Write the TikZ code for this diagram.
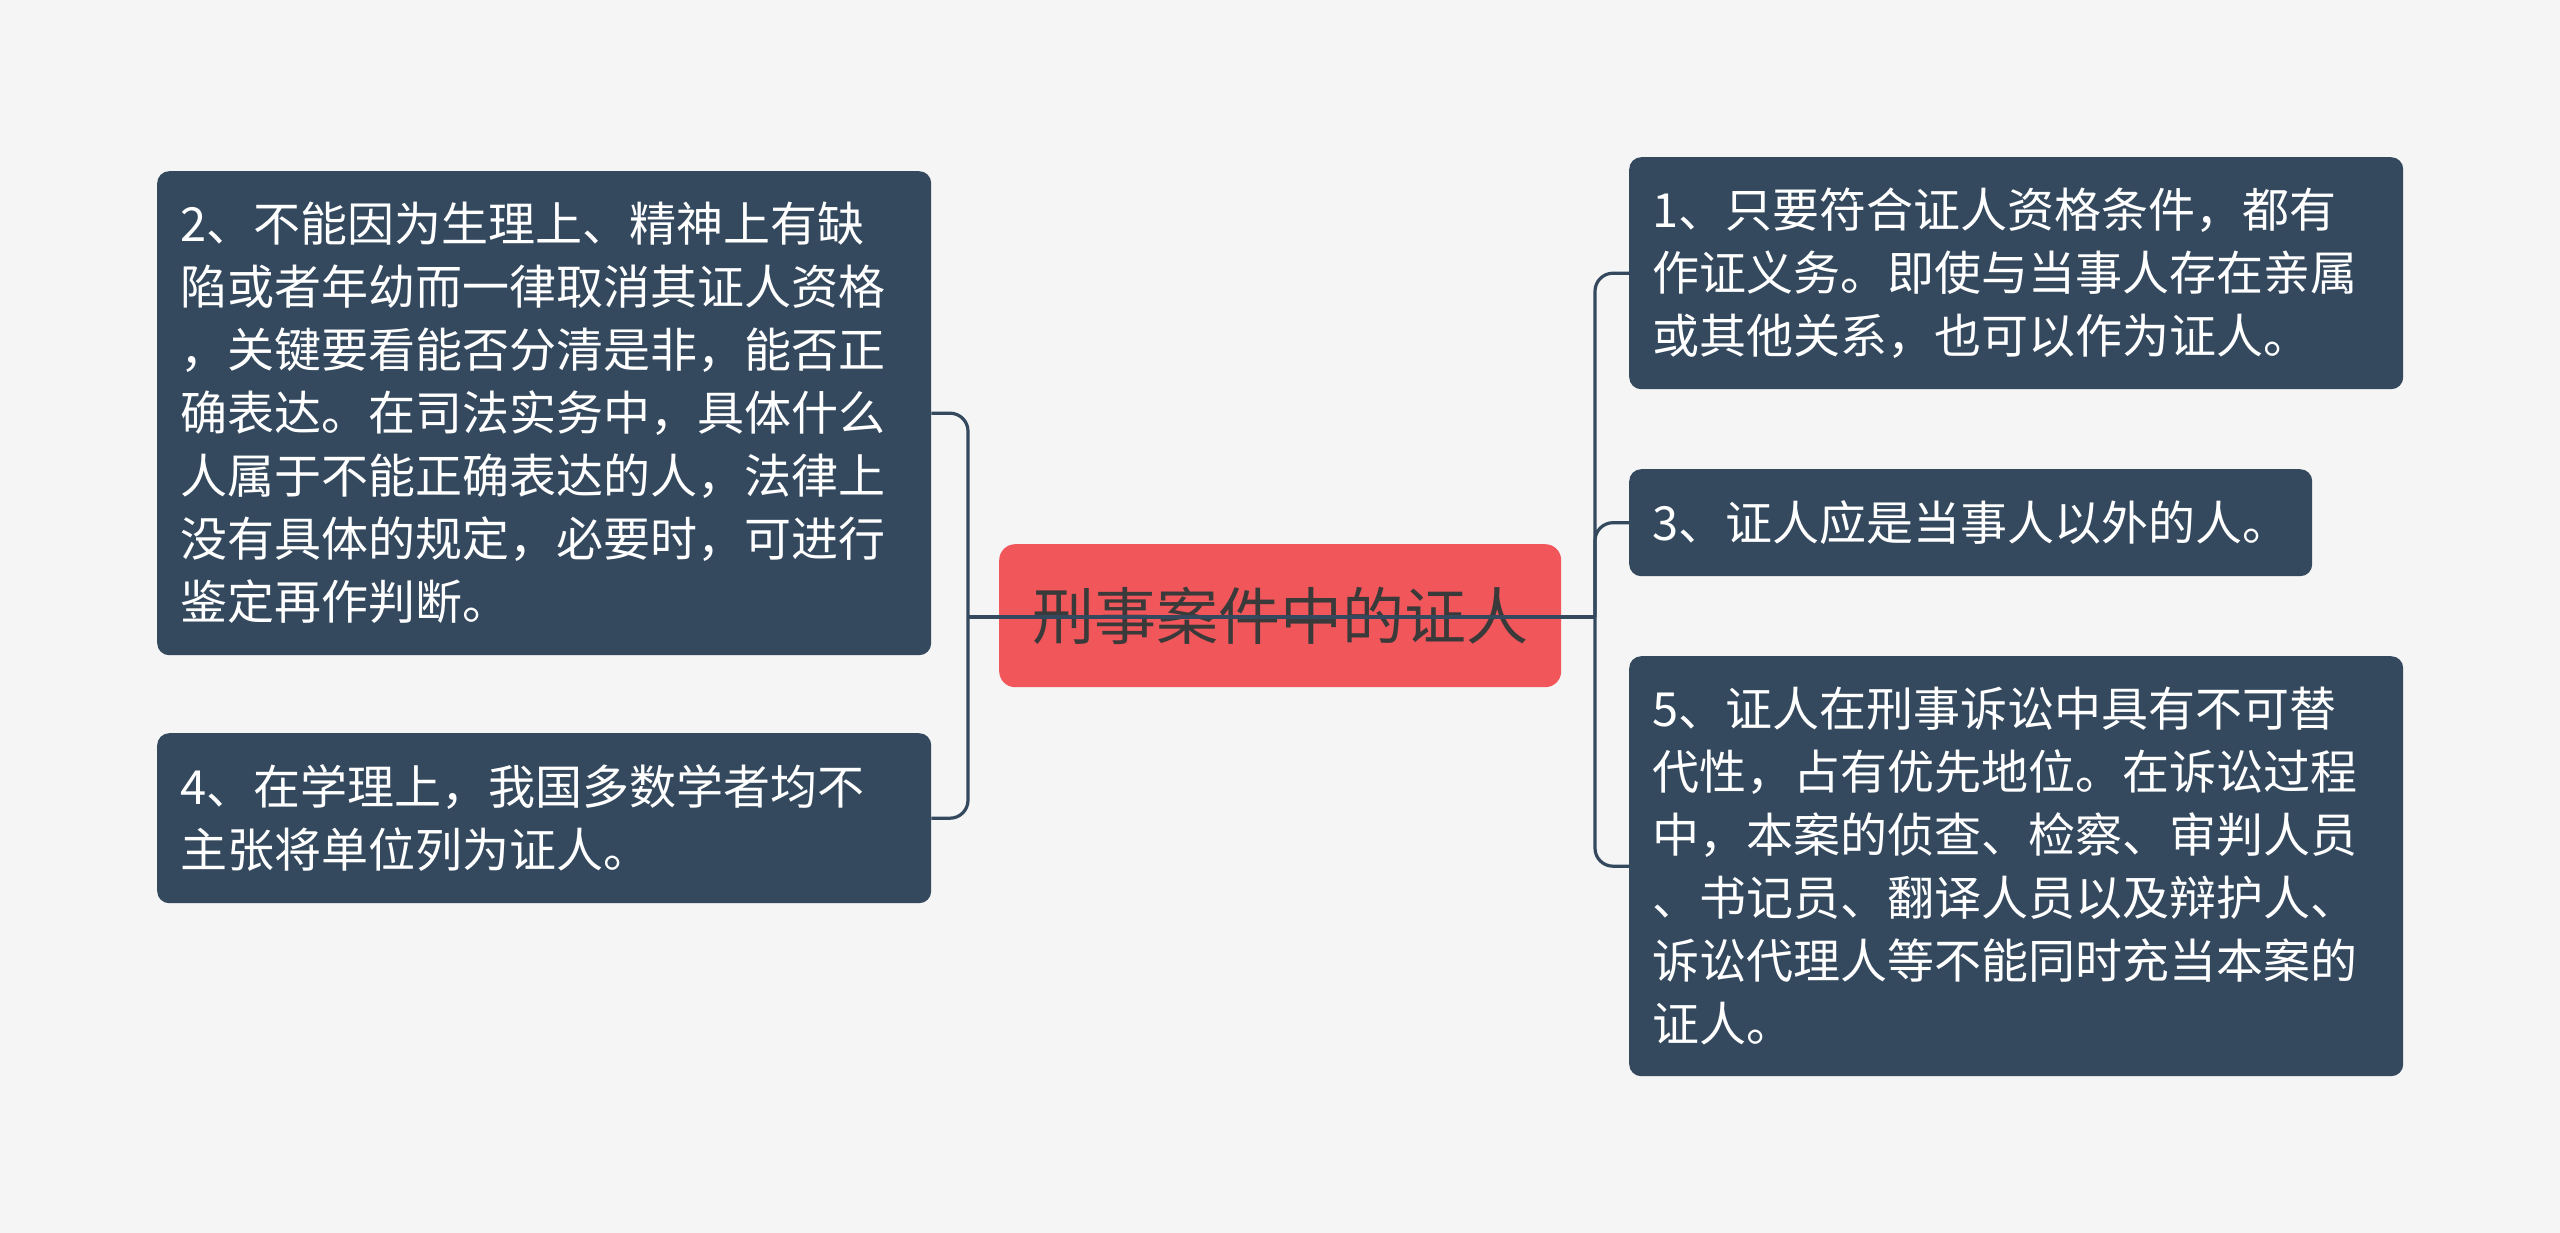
\documentclass[tikz,border=0pt]{standalone}
\usepackage{fontspec}
\newfontfamily\cjk{Noto Sans CJK SC}
\definecolor{bg}{HTML}{F5F5F5}
\definecolor{darkbox}{HTML}{34495E}
\definecolor{redbox}{HTML}{F0565A}
\definecolor{titletext}{HTML}{3A3A3A}
\tikzset{
  leaf/.style={draw=none, fill=darkbox, rounded corners=12pt, anchor=north west,
    inner xsep=23pt, inner ysep=0pt, align=left, text=white,
    font=\cjk\fontsize{47}{63}\selectfont},
  rootbox/.style={draw=none, fill=redbox, rounded corners=16pt, anchor=north west,
    minimum width=562pt, minimum height=143pt, inner sep=0pt, text=titletext,
    font=\cjk\fontsize{62}{72}\selectfont},
  link/.style={draw=darkbox, line width=3.2pt, rounded corners=18pt}
}
\begin{document}
\begin{tikzpicture}[x=1pt,y=-1pt]
\useasboundingbox[fill=bg] (0,0) rectangle (2560,1233);
% root
\node[rootbox] (root) at (999,544) {刑事案件中的证人};
% left
\node[leaf, text width=728pt, minimum height=484pt] (n2) at (157,171) {2、不能因为生理上、精神上有缺\\陷或者年幼而一律取消其证人资格\\，关键要看能否分清是非，能否正\\确表达。在司法实务中，具体什么\\人属于不能正确表达的人，法律上\\没有具体的规定，必要时，可进行\\鉴定再作判断。};
\node[leaf, text width=728pt, minimum height=170pt] (n4) at (157,733) {4、在学理上，我国多数学者均不\\主张将单位列为证人。};
% right
\node[leaf, text width=728pt, minimum height=232pt] (n1) at (1629,157) {1、只要符合证人资格条件，都有\\作证义务。即使与当事人存在亲属\\或其他关系，也可以作为证人。};
\node[leaf, text width=637pt, minimum height=107pt] (n3) at (1629,469) {3、证人应是当事人以外的人。};
\node[leaf, text width=728pt, minimum height=420pt] (n5) at (1629,656) {5、证人在刑事诉讼中具有不可替\\代性，占有优先地位。在诉讼过程\\中，本案的侦查、检察、审判人员\\、书记员、翻译人员以及辩护人、\\诉讼代理人等不能同时充当本案的\\证人。};
% connectors
\coordinate (L) at (968,617);
\coordinate (R) at (1595,617);
\draw[link] (n2.east) -| (L);
\draw[link] (n4.east) -| (L);
\draw[link] (n1.west) -| (R);
\draw[link] (n3.west) -| (R);
\draw[link] (n5.west) -| (R);
\draw[link] (L) -- (R);
\end{tikzpicture}
\end{document}
